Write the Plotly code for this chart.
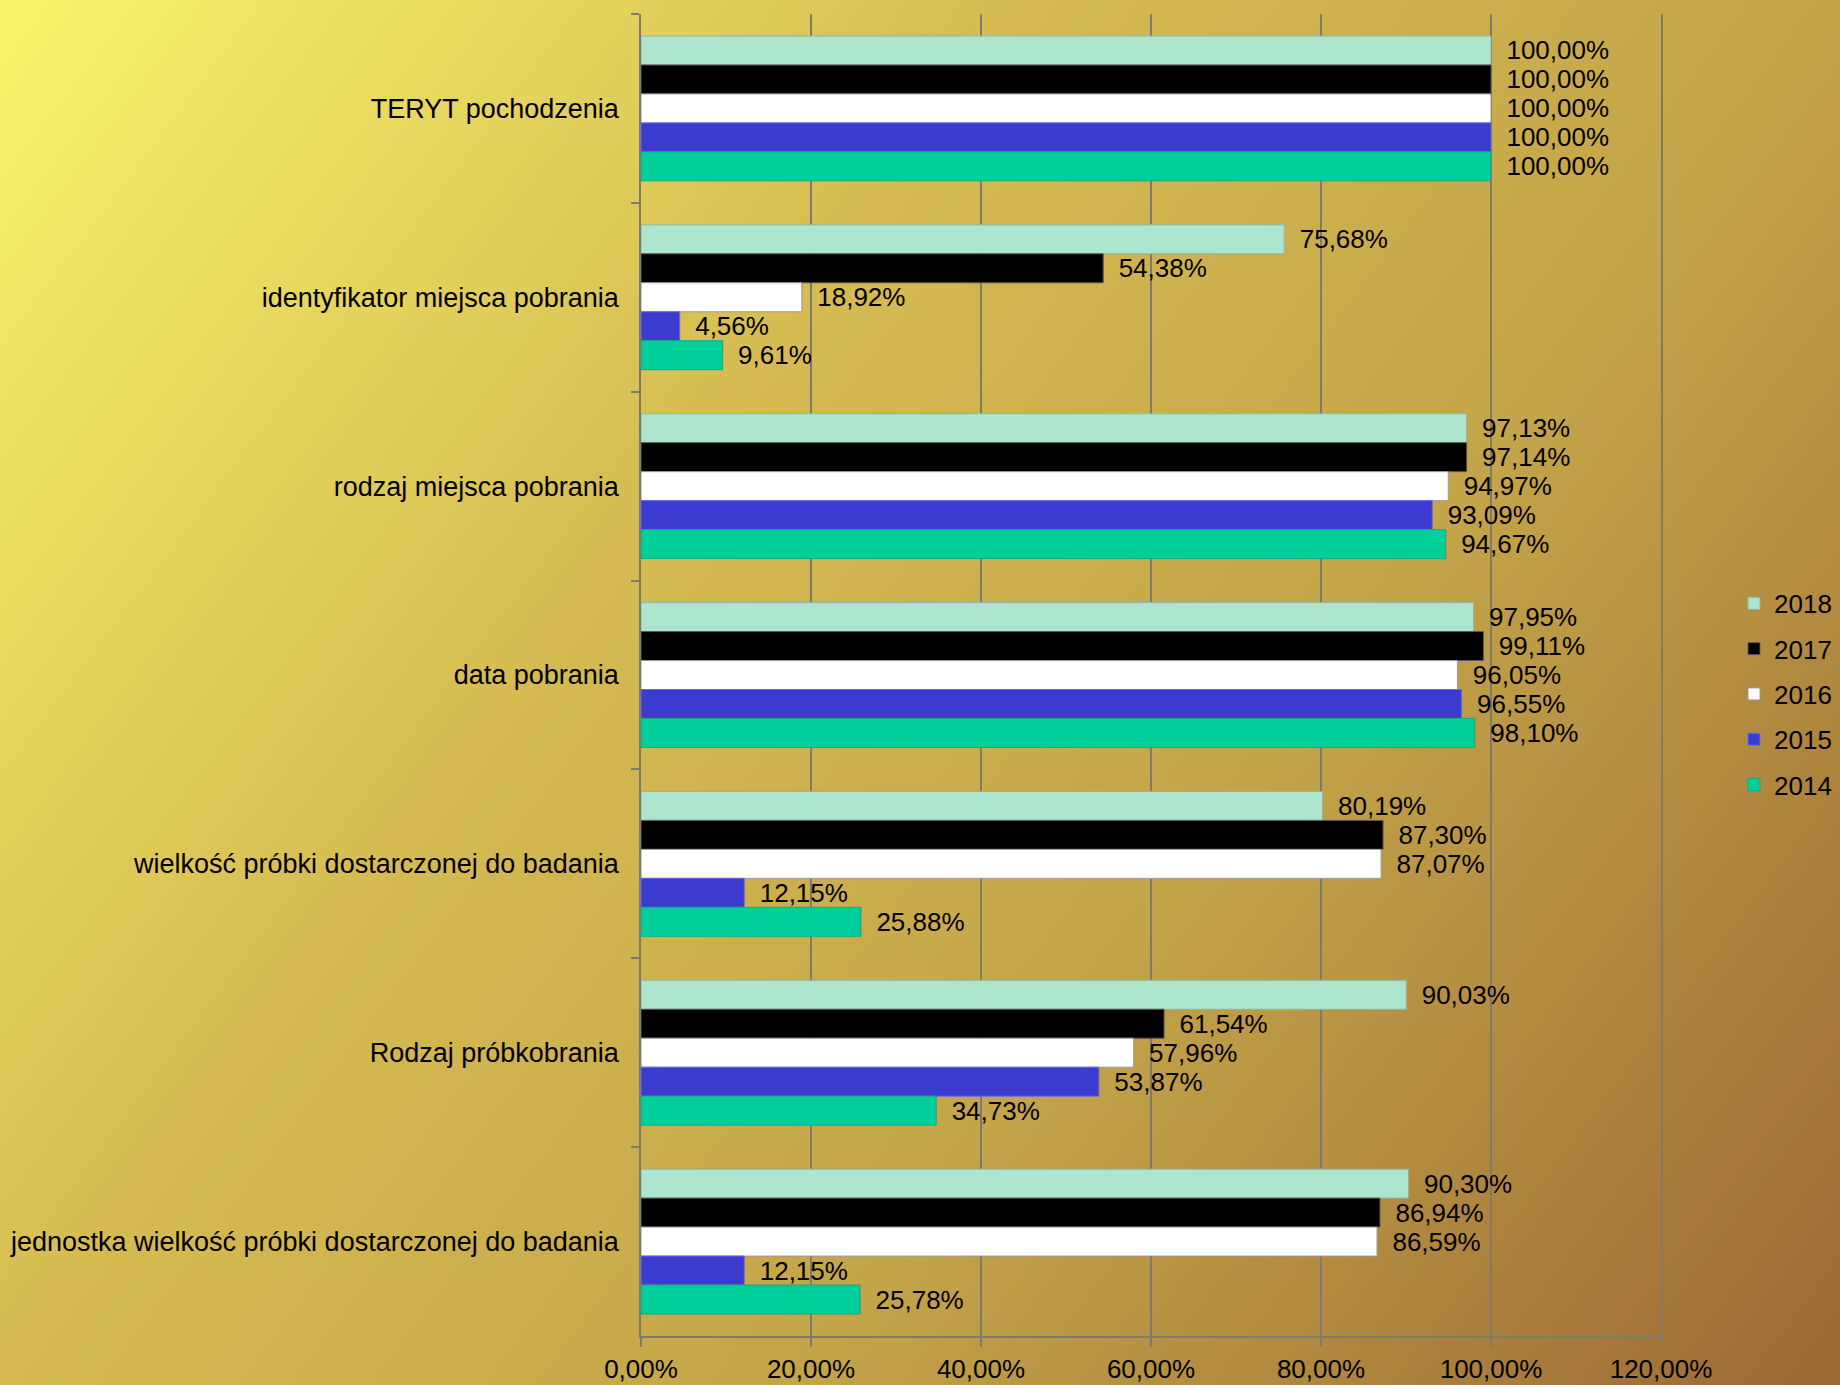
import base64
import plotly.graph_objects as go

categories = [
    "TERYT pochodzenia",
    "identyfikator miejsca pobrania",
    "rodzaj miejsca pobrania",
    "data pobrania",
    "wielkość próbki dostarczonej do badania",
    "Rodzaj próbkobrania",
    "jednostka wielkość próbki dostarczonej do badania",
]
years = ["2018", "2017", "2016", "2015", "2014"]
v2018 = [100.00, 75.68, 97.13, 97.95, 80.19, 90.03, 90.30]
v2017 = [100.00, 54.38, 97.14, 99.11, 87.30, 61.54, 86.94]
v2016 = [100.00, 18.92, 94.97, 96.05, 87.07, 57.96, 86.59]
v2015 = [100.00, 4.56, 93.09, 96.55, 12.15, 53.87, 12.15]
v2014 = [100.00, 9.61, 94.67, 98.10, 25.88, 34.73, 25.78]
series = [v2018, v2017, v2016, v2015, v2014]
tick_vals = [0, 20, 40, 60, 80, 100, 120]
tick_text = [f"{v:.2f}%".replace(".", ",") for v in tick_vals]

fill_colors = ["#AEE5CE", "#000000", "#FFFFFF", "#3B3BCF", "#00CF9C"]
line_colors = ["#8FB5A3", "#5A5A5A", "#9A9A9A", "#6A6AE6", "#16A884"]

W, H = 1840, 1385
ML, MR, MT, MB = 641, 179, 14, 49

svg = f'''<svg xmlns="http://www.w3.org/2000/svg" width="{W}" height="{H}" viewBox="0 0 {W} {H}" preserveAspectRatio="none">
<defs><linearGradient id="g" gradientUnits="userSpaceOnUse" x1="0" y1="0" x2="{W}" y2="{H}">
<stop offset="0" stop-color="#F8F56B"/>
<stop offset="0.36" stop-color="#D5BB52"/>
<stop offset="0.64" stop-color="#C3A449"/>
<stop offset="1" stop-color="#9C6834"/>
</linearGradient></defs>
<rect x="0" y="0" width="{W}" height="{H}" fill="url(#g)"/></svg>'''
bg_uri = "data:image/svg+xml;base64," + base64.b64encode(svg.encode()).decode()

FONT = "Liberation Sans, Arial, sans-serif"

fig = go.Figure()
for name, vals, fc, lc in zip(years, series, fill_colors, line_colors):
    fig.add_trace(go.Bar(
        y=categories, x=vals, name=name, orientation="h",
        marker=dict(color=fc, line=dict(color=lc, width=1)),
        texttemplate="\u00a0\u2009%{x:.2f}%", textposition="outside",
        constraintext="none", cliponaxis=False,
        textfont=dict(size=26, color="#000000", family=FONT),
        legendgroup=name,
    ))

pw = W - ML - MR
ph = H - MT - MB
fig.add_layout_image(dict(
    source=bg_uri, xref="paper", yref="paper",
    x=-ML / pw, y=1 + MT / ph, sizex=W / pw, sizey=H / ph,
    xanchor="left", yanchor="top", sizing="stretch", layer="below",
))

fig.update_layout(
    width=W, height=H, autosize=False,
    margin=dict(l=ML, r=MR, t=MT, b=MB, autoexpand=False),
    paper_bgcolor="#C9AC4C", plot_bgcolor="rgba(0,0,0,0)",
    barmode="group", bargap=0.233, bargroupgap=0,
    separators=", ",
    font=dict(family=FONT, size=26, color="#000000"),
    showlegend=True,
    legend=dict(
        x=(1734 - ML) / pw, xanchor="left", y=0.4853, yanchor="middle",
        font=dict(size=26, family=FONT, color="#000000"),
        bgcolor="rgba(0,0,0,0)", tracegroupgap=8.5,
        traceorder="grouped", itemwidth=30,
    ),
    xaxis=dict(
        range=[0, 120], tickmode="array", tickvals=tick_vals, ticktext=tick_text,
        showgrid=True, gridcolor="#7F7A6A", gridwidth=1.5,
        showline=True, linecolor="#7F7A6A", linewidth=1.5,
        ticks="outside", ticklen=9, tickcolor="#7F7A6A", tickwidth=1.5,
        zeroline=False, tickfont=dict(size=26), automargin=False,
    ),
    yaxis=dict(
        autorange="reversed", type="category",
        showline=True, mirror=True, linecolor="#7F7A6A", linewidth=1.5,
        ticks="outside", ticklen=8, tickcolor="#7F7A6A", tickwidth=1.5,
        tickson="boundaries", showgrid=False, ticklabelstandoff=15,
        tickfont=dict(size=27), automargin=False,
    ),
)

fig.write_html(
    "out.html",
    config={"displayModeBar": False, "responsive": False},
    post_script=(
        "document.body.style.margin='0px';"
        "document.documentElement.style.overflow='hidden';"
    ),
)
